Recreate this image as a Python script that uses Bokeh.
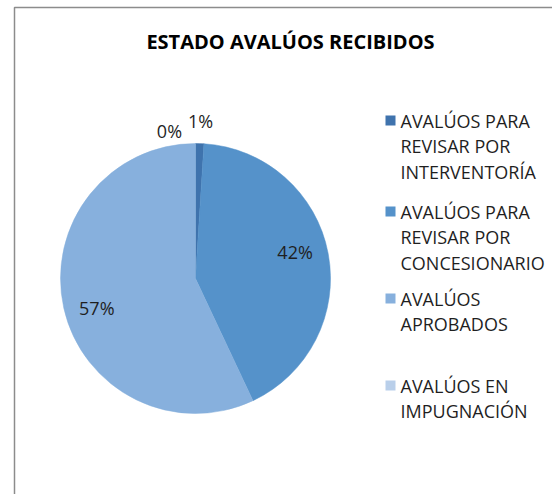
import math
from bokeh.plotting import figure
from bokeh.models import Range1d, ColumnDataSource
from bokeh.core.properties import value
from bokeh.embed import file_html
from bokeh.resources import INLINE

# ---- data ----
title_text = "ESTADO AVALÚOS RECIBIDOS"
categories = [
    "AVALÚOS PARA\nREVISAR POR\nINTERVENTORÍA",
    "AVALÚOS PARA\nREVISAR POR\nCONCESIONARIO",
    "AVALÚOS\nAPROBADOS",
    "AVALÚOS EN\nIMPUGNACIÓN",
]
values = [1, 42, 57, 0]
colors = ["#3F73AD", "#5592CA", "#87B0DD", "#B9CFEA"]

# ---- layout (pixel-like coordinates; y measured upward) ----
W, H = 552, 494
def Y(py):
    return H - py

FONT = "Open Sans"
TXT = "#1F1F1F"

p = figure(width=W, height=H, output_backend="svg", toolbar_location=None,
           x_range=Range1d(0, W), y_range=Range1d(0, H),
           min_border=0, outline_line_color=None)
p.axis.visible = False
p.grid.visible = False
p.background_fill_color = "white"
p.border_fill_color = "white"

# chart frame (left and top edges visible in the crop)
p.line(x=[14, 14, W], y=[Y(H), Y(7), Y(7)], line_color="#8C8C8C", line_width=1.5)

# title
p.text(x=[290], y=[Y(41)], text=[title_text], text_font=value(FONT), text_font_style="bold",
       text_font_size="20px", text_align="center", text_baseline="middle", text_color="#000000")

# pie
cx, cy, r = 195, Y(278), 135
total = float(sum(values))
starts, ends, cols, mids = [], [], [], []
cum = 0.0
for v, c in zip(values, colors):
    a0 = math.pi / 2 - 2 * math.pi * cum / total
    cum += v
    a1 = math.pi / 2 - 2 * math.pi * cum / total
    mids.append((a0 + a1) / 2)
    if v > 0:
        starts.append(a0); ends.append(a1); cols.append(c)
src = ColumnDataSource(dict(x=[cx] * len(starts), y=[cy] * len(starts),
                            s=starts, e=ends, c=cols))
p.wedge(x="x", y="y", radius=r, start_angle="s", end_angle="e", direction="clock",
        fill_color="c", line_color="c", line_width=0.5, source=src)

# data labels
lx, ly, lt = [], [], []
for v, m in zip(values, mids):
    pct = v / total * 100
    if pct >= 5:
        rr, ang = 103, m + math.radians(4)
    elif v > 0:
        rr, ang = 158, m
    else:
        rr, ang = 150, m + math.radians(10)
    lx.append(cx + rr * math.cos(ang))
    ly.append(cy + rr * math.sin(ang))
    lt.append(f"{round(pct)}%")
p.text(x=lx, y=ly, text=lt, text_font=value(FONT), text_font_size="18px",
       text_align="center", text_baseline="middle", text_color=TXT)

# legend
entry_top = [120, 211, 298, 385]
line_gap = 25.5
sq_x, tx_x = 390, 400
for lbl, c, top in zip(categories, colors, entry_top):
    p.rect(x=[sq_x], y=[Y(top)], width=10, height=10, fill_color=c, line_color=None)
    lines = lbl.split("\n")
    p.text(x=[tx_x] * len(lines), y=[Y(top + i * line_gap) for i in range(len(lines))],
           text=lines, text_font=value(FONT), text_font_size="18px",
           text_align="left", text_baseline="middle", text_color=TXT)

open("out.html", "w").write(file_html(p, INLINE))
